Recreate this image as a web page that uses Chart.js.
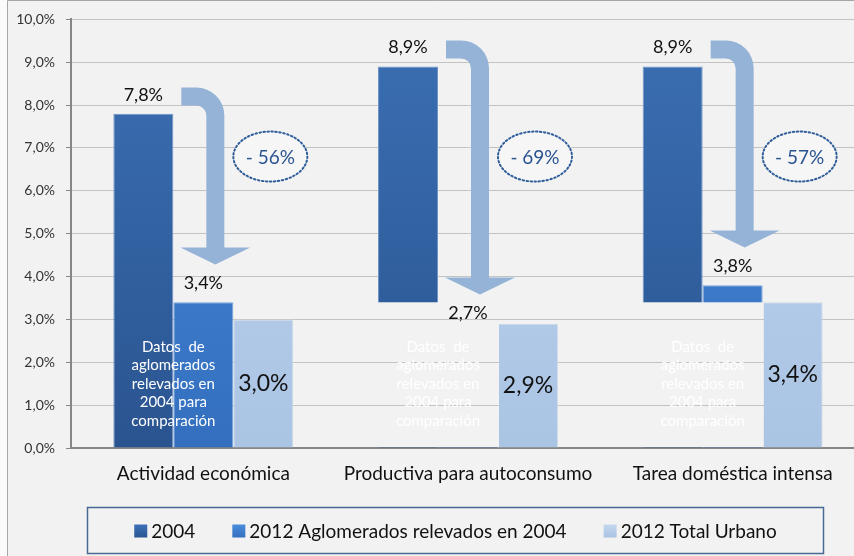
<!DOCTYPE html>
<html>
<head>
<meta charset="utf-8">
<script src="https://cdn.jsdelivr.net/npm/chart.js@4"></script>
<style>
html, body { margin: 0; padding: 0; overflow: hidden; background: #fafafa; }
canvas { display: block; }
</style>
</head>
<body>
<canvas id="grafico" width="866" height="556"></canvas>
<script>
var categorias = ['Actividad económica', 'Productiva para autoconsumo', 'Tarea doméstica intensa'];
var nombresSeries = ['2004', '2012 Aglomerados relevados en 2004', '2012 Total Urbano'];
var datos2004 = [7.8, 8.9, 8.9];
var datos2012Aglomerados = [3.4, 2.7, 3.8];
var datos2012Urbano = [3.0, 2.9, 3.4];
var variaciones = ['- 56%', '- 69%', '- 57%'];
var notaComparacion = ['Datos  de', 'aglomerados', 'relevados en', '2004 para', 'comparación'];
var tapado = [false, true, true];   // en estas categorias la parte baja va tapada
var tapadoHasta = 3.4;

var fuente = 'Lato, "Open Sans", sans-serif';
var colorGrilla = '#c3c3c3';
var colorFondo = '#f2f2f2';

function pct(v) {
    return v.toFixed(1).replace('.', ',') + '%';
}

function degradado(chart, arriba, abajo) {
    var area = chart.chartArea;
    if (!area) return abajo;
    var g = chart.ctx.createLinearGradient(0, area.top, 0, area.bottom);
    g.addColorStop(0, arriba);
    g.addColorStop(1, abajo);
    return g;
}

function flecha(c, x0, yBanda, xs, yPunta) {
    var t = 18, ri = 10, R = t + ri, hw = 35, hh = 17;
    var yb = yPunta - hh;
    c.beginPath();
    c.moveTo(x0, yBanda - t / 2);
    c.lineTo(xs - t / 2 - ri, yBanda - t / 2);
    c.arc(xs - t / 2 - ri, yBanda + t / 2 + ri, R, -Math.PI / 2, 0);
    c.lineTo(xs + t / 2, yb);
    c.lineTo(xs + hw, yb);
    c.lineTo(xs, yPunta);
    c.lineTo(xs - hw, yb);
    c.lineTo(xs - t / 2, yb);
    c.lineTo(xs - t / 2, yBanda + t / 2 + ri);
    c.arc(xs - t / 2 - ri, yBanda + t / 2 + ri, ri, 0, -Math.PI / 2, true);
    c.lineTo(x0, yBanda + t / 2);
    c.closePath();
    c.fill();
}

var fondo = {
    id: 'fondo',
    beforeDraw: function(chart) {
        var c = chart.ctx;
        c.save();
        c.fillStyle = colorFondo;
        c.fillRect(7, 0, chart.width - 7, chart.height);
        c.strokeStyle = '#a6a6a6';
        c.lineWidth = 1;
        c.beginPath();
        c.moveTo(7.5, chart.height);
        c.lineTo(7.5, 0.5);
        c.lineTo(chart.width, 0.5);
        c.stroke();
        c.restore();
    }
};

var decoraciones = {
    id: 'decoraciones',
    afterDatasetsDraw: function(chart) {
        var c = chart.ctx, y = chart.scales.y;
        var m0 = chart.getDatasetMeta(0), m1 = chart.getDatasetMeta(1), m2 = chart.getDatasetMeta(2);
        var y0 = y.getPixelForValue(0);
        c.save();
        categorias.forEach(function(cat, i) {
            var b0 = m0.data[i], b1 = m1.data[i], b2 = m2.data[i];
            var izq = b0.x - b0.width / 2, der = b1.x + b1.width / 2;
            var medio = b0.x + b0.width / 2;

            if (tapado[i]) {
                var tope = y.getPixelForValue(tapadoHasta);
                c.fillStyle = colorFondo;
                c.fillRect(izq - 1, tope, der - izq + 2, y0 - tope - 1);
                c.strokeStyle = colorGrilla;
                c.lineWidth = 1;
                y.ticks.forEach(function(t) {
                    var py = Math.round(y.getPixelForValue(t.value)) + 0.5;
                    if (py > tope && py < y0 - 1) {
                        c.beginPath();
                        c.moveTo(izq - 1, py);
                        c.lineTo(der + 1, py);
                        c.stroke();
                    }
                });
            }

            // nota en blanco
            c.fillStyle = '#ffffff';
            c.font = '15px ' + fuente;
            c.textAlign = 'center';
            c.textBaseline = 'middle';
            var yc = y.getPixelForValue(1.5);
            notaComparacion.forEach(function(linea, k) {
                c.fillText(linea, medio, yc + (k - 2) * 18.5);
            });

            // flecha
            c.fillStyle = '#95b3d7';
            flecha(c, b0.x + b0.width / 2 + 8,
                y.getPixelForValue(datos2004[i] + 0.4),
                b1.x + 12,
                y.getPixelForValue(datos2012Aglomerados[i] + 0.88));

            // elipse con la variacion
            var ex = b2.x + 7, ey = y.getPixelForValue(6.8);
            c.beginPath();
            c.ellipse(ex, ey, 37, 25, 0, 0, Math.PI * 2);
            c.fillStyle = '#f6f6f6';
            c.fill();
            c.setLineDash([1.5, 2.5]);
            c.lineCap = 'round';
            c.lineWidth = 2;
            c.strokeStyle = '#2f5d9a';
            c.stroke();
            c.setLineDash([]);
            c.fillStyle = '#2a5490';
            c.font = '19px ' + fuente;
            c.fillText(variaciones[i], ex, ey + 1);

            // etiquetas de valores
            c.fillStyle = '#111111';
            c.font = '18px ' + fuente;
            c.fillText(pct(datos2004[i]), b0.x, b0.y - 19);
            c.fillText(pct(datos2012Aglomerados[i]), b1.x, b1.y - 19);
            c.font = '23px ' + fuente;
            c.fillText(pct(datos2012Urbano[i]), b2.x, (b2.y + b2.base) / 2);
        });

        // leyenda
        var caja = { l: 87.5, t: 507.5, r: 823.5, b: 553.5 };
        c.strokeStyle = '#4a6a96';
        c.lineWidth = 1.5;
        c.strokeRect(caja.l, caja.t, caja.r - caja.l, caja.b - caja.t);
        c.font = '19px ' + fuente;
        var anchos = nombresSeries.map(function(n) { return c.measureText(n).width; });
        var total = 0;
        anchos.forEach(function(w, k) { total += 13 + 4 + w + (k < anchos.length - 1 ? 37 : 0); });
        var x = (caja.l + caja.r) / 2 - total / 2;
        var ym = (caja.t + caja.b) / 2;
        var coloresLeyenda = [['#3c72b8', '#2a5591'], ['#4a8cdc', '#3470bf'], ['#c4d7ee', '#a9c3e3']];
        nombresSeries.forEach(function(n, k) {
            var g = c.createLinearGradient(0, ym - 6, 0, ym + 7);
            g.addColorStop(0, coloresLeyenda[k][0]);
            g.addColorStop(1, coloresLeyenda[k][1]);
            c.fillStyle = g;
            c.fillRect(x, ym - 6, 13, 13);
            c.fillStyle = '#111111';
            c.textAlign = 'left';
            c.fillText(n, x + 17, ym + 1);
            x += 13 + 4 + anchos[k] + 37;
        });
        c.restore();
    }
};

var ctx = document.getElementById('grafico').getContext('2d');
var grafico = new Chart(ctx, {
    type: 'bar',
    data: {
        labels: categorias,
        datasets: [{
            label: nombresSeries[0],
            data: datos2004,
            backgroundColor: function(cx) { return degradado(cx.chart, '#3b70b4', '#2a5490'); },
            borderColor: '#6f93c4',
            borderWidth: 1
        }, {
            label: nombresSeries[1],
            data: datos2012Aglomerados,
            backgroundColor: function(cx) { return degradado(cx.chart, '#4a8cdc', '#336fbe'); },
            borderColor: '#7aa6dc',
            borderWidth: 1
        }, {
            label: nombresSeries[2],
            data: datos2012Urbano,
            backgroundColor: function(cx) { return degradado(cx.chart, '#c0d5ee', '#aac4e4'); },
            borderColor: '#cfdcec',
            borderWidth: 1
        }]
    },
    options: {
        responsive: false,
        animation: false,
        devicePixelRatio: 1,
        layout: { padding: { left: 8, top: 16, right: 1, bottom: 0 } },
        datasets: {
            bar: { categoryPercentage: 0.68, barPercentage: 1.0 }
        },
        plugins: {
            legend: { display: false },
            tooltip: { enabled: false }
        },
        scales: {
            x: {
                grid: { display: false, drawTicks: false },
                border: { color: '#868686', width: 2 },
                ticks: {
                    color: '#111111',
                    padding: 14,
                    font: { family: fuente, size: 19 }
                },
                afterFit: function(s) { s.height = 108; }
            },
            y: {
                min: 0,
                max: 10,
                ticks: {
                    stepSize: 1,
                    color: '#333333',
                    padding: 11,
                    font: { family: fuente, size: 14 },
                    callback: function(v) { return pct(v); }
                },
                grid: { color: colorGrilla, tickColor: '#868686', tickLength: 5 },
                border: { color: '#868686', width: 2 },
                afterFit: function(s) { s.width = 63; }
            }
        }
    },
    plugins: [fondo, decoraciones]
});
</script>
</body>
</html>
